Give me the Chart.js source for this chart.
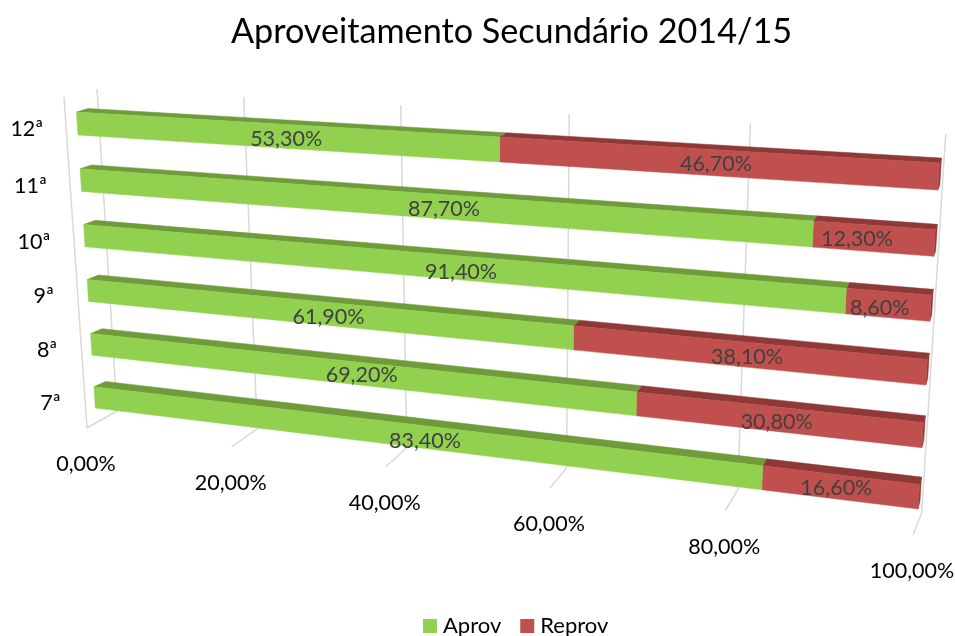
<!DOCTYPE html>
<html><head><meta charset="utf-8">
<style>html,body{margin:0;padding:0;background:#fff}canvas{display:block}</style>
<script src="https://cdn.jsdelivr.net/npm/chart.js@4"></script>
</head><body><canvas id="c" width="955" height="636"></canvas>
<script>
const categories = ['12ª','11ª','10ª','9ª','8ª','7ª'];
const aprov = [53.3,87.7,91.4,61.9,69.2,83.4];
const reprov = [46.7,12.3,8.6,38.1,30.8,16.6];
const xTicks = [0,20,40,60,80,100];

// Camera: where the flat plot's corners land on the page (TL, TR, BR, BL)
const FRONT = [[76.5,112],[939.5,163],[918,509],[95.3,408]];
const WALL  = [[97,89],[945.7,134],[921.7,513],[117,411]];
const FLOOR_EDGE = [[87,428],[913,535]];
const FLOOR_G = -0.15;
const SIDE_LINE = [[64,97],[87,428]];
const LABEL_NUDGE = [
  [[7,3],[24,4],[25,6],[10,4],[13,3],[19,6]],
  [[6,2],[-16,1],[-8,3],[3,3],[1,3],[-3,1]]
];
const FONT = 'Lato';

function homography(q){
  const [[x0,y0],[x1,y1],[x2,y2],[x3,y3]] = q;
  const dx1=x1-x2,dx2=x3-x2,sx=x0-x1+x2-x3,dy1=y1-y2,dy2=y3-y2,sy=y0-y1+y2-y3;
  const den=dx1*dy2-dx2*dy1;
  const g=(sx*dy2-dx2*sy)/den,h=(dx1*sy-sx*dy1)/den;
  const a=x1-x0+g*x1,b=x3-x0+h*x3,d=y1-y0+g*y1,e=y3-y0+h*y3;
  return (u,v)=>{const w=g*u+h*v+1;return [(a*u+b*v+x0)/w,(d*u+e*v+y0)/w];};
}
const front=homography(FRONT),wall=homography(WALL);
const lerp=(a,b,t)=>a+(b-a)*t;
function floorFront(u){
  const t=u*(1+FLOOR_G)/(1+FLOOR_G*u);
  return [lerp(FLOOR_EDGE[0][0],FLOOR_EDGE[1][0],t),lerp(FLOOR_EDGE[0][1],FLOOR_EDGE[1][1],t)];
}
function depth(p,u,v){
  return [p[0]+lerp(11.5,2,u),p[1]+lerp(lerp(-3.5,-5.5,v),lerp(-5,-7.5,v),u)];
}
function poly(ctx,pts,fill){
  ctx.beginPath();pts.forEach((p,i)=>i?ctx.lineTo(p[0],p[1]):ctx.moveTo(p[0],p[1]));ctx.closePath();
  ctx.fillStyle=fill;ctx.fill();ctx.strokeStyle=fill;ctx.lineWidth=0.5;ctx.stroke();
}
function uv(chart){
  const x=chart.scales.x,m=chart.getDatasetMeta(0).data;
  const top=m[0].y-m[0].height/2,bot=m[m.length-1].y+m[m.length-1].height/2;
  return {u:p=>(p-x.left)/(x.right-x.left),v:p=>(p-top)/(bot-top)};
}
const perspective={
  id:'perspective',
  beforeDatasetsDraw(chart){
    const ctx=chart.ctx,x=chart.scales.x,{u,v}=uv(chart);
    ctx.save();ctx.strokeStyle='#d9d9d9';ctx.lineWidth=1.5;ctx.lineJoin='round';
    ctx.beginPath();ctx.moveTo(...SIDE_LINE[0]);ctx.lineTo(...SIDE_LINE[1]);ctx.stroke();
    ctx.font='21.5px '+FONT;ctx.textAlign='center';ctx.textBaseline='middle';
    x.ticks.forEach(t=>{
      const U=u(x.getPixelForValue(t.value));
      const a=wall(U,0),b=wall(U,1),c=floorFront(U);
      ctx.beginPath();ctx.moveTo(...a);ctx.lineTo(...b);ctx.lineTo(...c);ctx.stroke();
      ctx.fillStyle='#000';
      ctx.fillText(t.label,c[0]-1,c[1]+36);
    });
    const y=chart.scales.y;
    ctx.textAlign='right';
    y.ticks.forEach(t=>{
      const p=front(0,v(y.getPixelForValue(t.value)));
      ctx.fillText(t.label,p[0]-34,p[1]+6);
    });
    ctx.restore();
  },
  beforeDatasetDraw(chart,args){
    const ctx=chart.ctx,{u,v}=uv(chart),ds=chart.data.datasets[args.index];
    args.meta.data.forEach(el=>{
      const u0=u(el.base),u1=u(el.x),v0=v(el.y-el.height/2),v1=v(el.y+el.height/2);
      const tl=front(u0,v0),tr=front(u1,v0),br=front(u1,v1),bl=front(u0,v1);
      poly(ctx,[tl,tr,depth(tr,u1,v0),depth(tl,u0,v0)],ds.topColor);
      if(u1>0.999) poly(ctx,[tr,br,depth(br,u1,v1),depth(tr,u1,v0)],ds.topColor);
      poly(ctx,[tl,tr,br,bl],ds.backgroundColor);
    });
    return false;
  },
  afterDatasetsDraw(chart){
    const ctx=chart.ctx,{u,v}=uv(chart);
    ctx.save();ctx.font='21.5px '+FONT;ctx.fillStyle='#404040';ctx.textAlign='center';ctx.textBaseline='middle';
    chart.data.datasets.forEach((ds,i)=>{
      chart.getDatasetMeta(i).data.forEach((el,j)=>{
        const p=front(u((el.base+el.x)/2),v(el.y)),n=LABEL_NUDGE[i][j];
        ctx.fillText(ds.data[j].toFixed(2).replace('.',',')+'%',p[0]+n[0],p[1]+n[1]);
      });
    });
    // legend
    ctx.font='22px '+FONT;ctx.textAlign='left';
    let lx=423;
    chart.data.datasets.forEach(ds=>{
      ctx.fillStyle=ds.backgroundColor;ctx.fillRect(lx,619,14,14);
      ctx.fillStyle='#000';ctx.fillText(ds.label,lx+20,626);
      lx+=20+ctx.measureText(ds.label).width+19;
    });
    ctx.restore();
  }
};
new Chart(document.getElementById('c'),{
  type:'bar',
  data:{labels:categories,datasets:[
    {label:'Aprov',data:aprov,backgroundColor:'#92d050',topColor:'#6f9b3b'},
    {label:'Reprov',data:reprov,backgroundColor:'#c0504d',topColor:'#8e3937'}
  ]},
  options:{
    indexAxis:'y',responsive:false,animation:false,
    layout:{padding:{left:68,top:11,bottom:0,right:0}},
    barPercentage:0.403,categoryPercentage:1,
    scales:{
      x:{stacked:true,min:0,max:100,
        afterBuildTicks(s){s.ticks=xTicks.map(value=>({value}));},
        ticks:{display:false,callback:v=>v.toFixed(2).replace('.',',')+'%'},
        grid:{display:false},border:{display:false}},
      y:{stacked:true,ticks:{display:false},grid:{display:false},border:{display:false}}
    },
    plugins:{
      title:{display:true,text:'Aproveitamento Secundário 2014/15',color:'#000',
        font:{family:FONT,size:34.2,weight:'normal'},padding:{top:0,bottom:20}},
      legend:{display:false},
      tooltip:{enabled:false}
    }
  },
  plugins:[perspective]
});
</script></body></html>
